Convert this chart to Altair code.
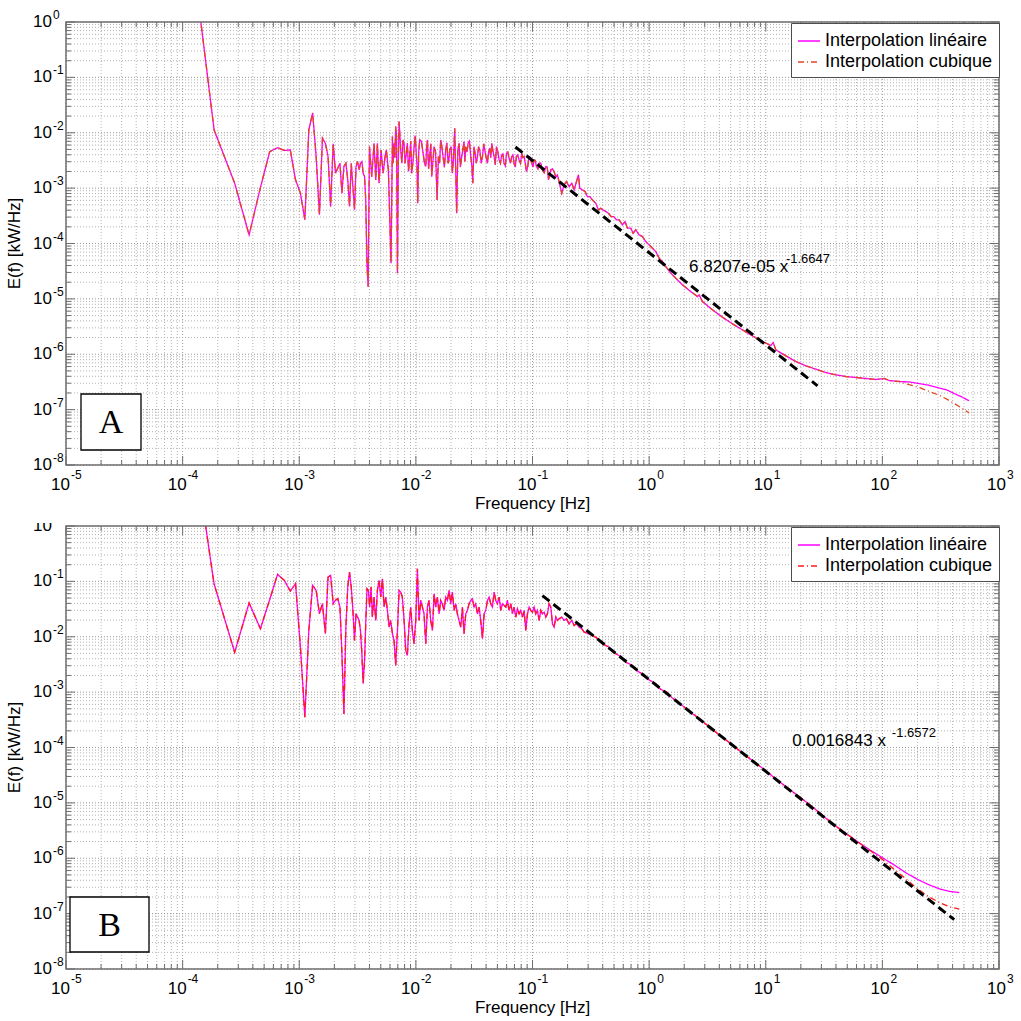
import altair as alt
import pandas as pd

LIN = "Interpolation linéaire"
CUB = "Interpolation cubique"

# ---------------------------------------------------------------------------
# Spectra, stored as (log10 f [Hz], log10 E(f) [kW/Hz]) pairs.
# ---------------------------------------------------------------------------

# Panel A - lowest harmonics
A_LOW = [
    (-4.03, 3.2), (-3.73, -1.95), (-3.554, -2.91), (-3.43, -3.845), (-3.333, -2.99),
    (-3.253, -2.34), (-3.186, -2.27), (-3.128, -2.32), (-3.077, -2.31), (-3.032, -2.85),
    (-2.990, -3.09), (-2.952, -3.57), (-2.918, -1.95), (-2.885, -1.64), (-2.855, -2.43),
    (-2.827, -3.48), (-2.801, -2.10), (-2.776, -2.19), (-2.753, -2.43), (-2.731, -3.33),
    (-2.709, -2.20), (-2.689, -2.73), (-2.670, -2.64), (-2.651, -2.55), (-2.634, -3.09),
    (-2.617, -2.61), (-2.600, -2.55), (-2.584, -2.85), (-2.569, -3.33), (-2.554, -2.55),
    (-2.540, -2.97), (-2.526, -3.39), (-2.513, -2.61), (-2.500, -2.52), (-2.487, -2.67),
    (-2.475, -2.55), (-2.463, -2.52), (-2.452, -2.73), (-2.440, -2.79), (-2.430, -3.21),
    (-2.419, -4.40), (-2.409, -4.78), (-2.398, -2.25),
]

# Panel A - noisy plateau
A_MID = [
    (-2.3785, -2.792), (-2.3585, -2.190), (-2.344, -2.852), (-2.330, -2.190), (-2.316, -2.912),
    (-2.2985, -2.311), (-2.281, -2.732), (-2.264, -2.431), (-2.253, -2.311), (-2.236, -2.672),
    (-2.213, -4.356), (-2.201, -2.070), (-2.187, -2.190), (-2.173, -1.889), (-2.158, -4.537),
    (-2.144, -1.799), (-2.130, -2.311), (-2.110, -2.130), (-2.093, -2.551), (-2.073, -2.190),
    (-2.053, -2.431), (-2.036, -2.732), (-2.016, -2.281), (-1.995, -2.431), (-1.984, -3.273),
    (-1.967, -2.130), (-1.938, -2.371), (-1.915, -2.611), (-1.901, -2.130), (-1.881, -2.431),
    (-1.864, -2.792), (-1.844, -2.250), (-1.818, -3.213), (-1.807, -2.431), (-1.787, -2.130),
    (-1.767, -2.431), (-1.744, -2.311), (-1.724, -2.551), (-1.710, -2.311), (-1.687, -2.732),
    (-1.667, -1.919), (-1.650, -3.454), (-1.630, -2.190), (-1.607, -2.431), (-1.587, -2.160),
    (-1.572, -2.250), (-1.552, -2.190), (-1.529, -2.431), (-1.512, -2.912), (-1.492, -2.371),
    (-1.472, -2.431), (-1.452, -2.311), (-1.429, -2.431), (-1.407, -2.341), (-1.387, -2.551),
    (-1.367, -2.281), (-1.349, -2.190), (-1.329, -2.431), (-1.309, -2.250), (-1.286, -2.491),
    (-1.264, -2.401), (-1.244, -2.551), (-1.223, -2.371), (-1.201, -2.461), (-1.178, -2.431),
    (-1.158, -2.551), (-1.138, -2.431), (-1.115, -2.491), (-1.092, -2.371), (-1.072, -2.431),
    (-1.052, -2.702), (-1.029, -2.431), (-1.006, -2.551), (-0.986, -2.491), (-0.966, -2.611),
    (-0.943, -2.551), (-0.915, -2.672), (-0.886, -2.611), (-0.863, -2.852), (-0.843, -2.672),
    (-0.815, -2.702), (-0.786, -2.762),
]

# Panel A - finer spikes inside the plateau band
A_MID_FINE = [
    (-2.195, -2.55), (-2.180, -2.45), (-2.166, -2.05), (-2.151, -2.60), (-2.137, -2.05),
    (-2.120, -2.55), (-2.101, -2.20), (-2.083, -2.40), (-2.063, -2.70), (-2.044, -2.15),
    (-2.026, -2.55), (-2.006, -2.05), (-1.990, -2.60), (-1.976, -2.35), (-1.953, -2.15),
    (-1.926, -2.55), (-1.908, -2.25), (-1.891, -2.65), (-1.872, -2.20), (-1.855, -2.55),
    (-1.831, -2.35), (-1.797, -2.55), (-1.777, -2.25), (-1.756, -2.62), (-1.734, -2.18),
    (-1.717, -2.50), (-1.698, -2.25), (-1.677, -2.45), (-1.640, -2.30), (-1.618, -2.62),
    (-1.597, -2.30), (-1.580, -2.52), (-1.562, -2.35), (-1.541, -2.15), (-1.520, -2.60),
    (-1.502, -2.25), (-1.482, -2.55), (-1.462, -2.25), (-1.440, -2.55), (-1.418, -2.20),
    (-1.397, -2.45), (-1.377, -2.35), (-1.358, -2.45), (-1.339, -2.33), (-1.319, -2.58),
    (-1.297, -2.35), (-1.275, -2.55), (-1.254, -2.38), (-1.233, -2.60), (-1.212, -2.35),
    (-1.189, -2.55), (-1.168, -2.40), (-1.148, -2.62), (-1.126, -2.40), (-1.103, -2.55),
    (-1.082, -2.45), (-1.062, -2.55), (-1.040, -2.60), (-1.017, -2.45), (-0.996, -2.62),
    (-0.976, -2.50), (-0.954, -2.65), (-0.929, -2.55), (-0.900, -2.72), (-0.874, -2.62),
    (-0.853, -2.75), (-0.829, -2.65), (-0.800, -2.80),
]

# Panel A - roll-off
A_ROLL = [
    (-0.749, -3.092), (-0.729, -2.942), (-0.709, -2.882), (-0.686, -2.972), (-0.663, -2.912),
    (-0.643, -3.032), (-0.623, -2.882), (-0.606, -2.761), (-0.595, -3.002), (-0.572, -3.032),
    (-0.549, -3.062), (-0.529, -3.152), (-0.509, -3.152), (-0.486, -3.213), (-0.457, -3.273),
    (-0.435, -3.393), (-0.415, -3.363), (-0.395, -3.393), (-0.372, -3.423), (-0.349, -3.453),
    (-0.326, -3.513), (-0.303, -3.513), (-0.280, -3.574), (-0.257, -3.574), (-0.229, -3.664),
    (-0.206, -3.604), (-0.186, -3.724), (-0.157, -3.724), (-0.137, -3.814), (-0.114, -3.754),
    (-0.086, -3.844), (-0.057, -3.874), (-0.029, -3.965), (0.000, -4.025), (0.029, -4.085),
    (0.057, -4.145), (0.086, -4.266), (0.114, -4.326), (0.143, -4.416), (0.186, -4.536),
    (0.229, -4.627), (0.286, -4.747), (0.357, -4.868), (0.415, -4.958), (0.429, -4.928),
    (0.457, -5.048), (0.543, -5.198), (0.629, -5.331), (0.715, -5.451), (0.800, -5.559),
    (0.886, -5.668), (0.972, -5.770), (1.044, -5.842), (1.064, -5.788), (1.086, -5.920),
    (1.172, -6.029), (1.258, -6.131), (1.344, -6.209), (1.429, -6.269), (1.515, -6.330),
    (1.601, -6.372), (1.687, -6.402), (1.773, -6.420), (1.858, -6.438), (1.944, -6.456),
    (2.016, -6.438), (2.058, -6.474), (2.144, -6.492),
]

A_TAIL_LIN = [(2.23, -6.50), (2.316, -6.53), (2.40, -6.56), (2.487, -6.61),
              (2.56, -6.65), (2.616, -6.71), (2.68, -6.77), (2.744, -6.84)]
A_TAIL_CUB = [(2.23, -6.55), (2.316, -6.60), (2.40, -6.67), (2.487, -6.74),
              (2.56, -6.82), (2.616, -6.89), (2.68, -6.97), (2.744, -7.06)]

# Panel B - lowest harmonics
B_LOW = [
    (-4.03, 3.3), (-3.731, -1.04), (-3.554, -2.28), (-3.430, -1.39), (-3.333, -1.856),
    (-3.253, -1.325), (-3.186, -0.874), (-3.128, -0.982), (-3.077, -1.175), (-3.032, -1.042),
    (-2.990, -2.187), (-2.952, -3.453), (-2.918, -1.886), (-2.885, -1.072), (-2.855, -1.163),
    (-2.827, -1.585), (-2.801, -1.40), (-2.776, -1.946), (-2.753, -0.922), (-2.731, -0.892),
    (-2.709, -1.404), (-2.689, -1.34), (-2.670, -1.31), (-2.651, -1.464), (-2.634, -2.308),
    (-2.617, -3.393), (-2.600, -1.826), (-2.584, -1.102), (-2.569, -0.831), (-2.554, -1.102),
    (-2.540, -1.524), (-2.526, -2.067), (-2.513, -1.585), (-2.500, -1.645), (-2.487, -1.705),
    (-2.475, -1.886), (-2.463, -2.308), (-2.452, -2.85), (-2.440, -2.429), (-2.430, -1.766),
    (-2.419, -1.132),
]

# Panel B - noisy plateau
B_MID = [
    (-2.407, -1.163), (-2.396, -1.464), (-2.384, -1.103), (-2.373, -1.645), (-2.359, -1.283),
    (-2.344, -1.705), (-2.330, -1.163), (-2.316, -0.982), (-2.301, -1.283), (-2.287, -0.952),
    (-2.273, -1.464), (-2.258, -1.283), (-2.244, -1.524), (-2.230, -1.826), (-2.216, -1.705),
    (-2.201, -1.946), (-2.187, -2.067), (-2.173, -2.519), (-2.158, -1.886), (-2.144, -1.163),
    (-2.130, -1.193), (-2.116, -1.283), (-2.101, -1.705), (-2.087, -2.248), (-2.073, -2.338),
    (-2.058, -1.766), (-2.044, -1.464), (-2.030, -1.886), (-2.016, -2.127), (-2.001, -1.705),
    (-1.987, -0.771), (-1.973, -1.705), (-1.958, -1.344), (-1.944, -1.464), (-1.930, -1.585),
    (-1.915, -2.127), (-1.901, -1.464), (-1.887, -1.344), (-1.873, -1.705), (-1.858, -1.886),
    (-1.844, -1.223), (-1.830, -1.464), (-1.815, -1.283), (-1.801, -1.585), (-1.787, -1.344),
    (-1.773, -1.404), (-1.758, -1.524), (-1.744, -1.283), (-1.730, -1.344), (-1.715, -1.163),
    (-1.701, -1.404), (-1.687, -1.193), (-1.672, -1.524), (-1.658, -1.404), (-1.644, -1.585),
    (-1.630, -1.705), (-1.615, -1.826), (-1.601, -1.464), (-1.587, -1.946), (-1.572, -1.585),
    (-1.558, -1.524), (-1.544, -1.404), (-1.529, -1.344), (-1.515, -1.314), (-1.501, -1.464),
    (-1.487, -1.404), (-1.472, -1.585), (-1.458, -1.464), (-1.444, -1.705), (-1.429, -2.037),
    (-1.415, -1.585), (-1.401, -1.524), (-1.386, -1.344), (-1.372, -1.283), (-1.358, -1.404),
    (-1.344, -1.464), (-1.329, -1.193), (-1.315, -1.344), (-1.301, -1.404), (-1.286, -1.283),
    (-1.272, -1.524), (-1.258, -1.404), (-1.229, -1.464), (-1.215, -1.344), (-1.201, -1.524),
    (-1.186, -1.404), (-1.172, -1.585), (-1.158, -1.464), (-1.143, -1.645), (-1.129, -1.494),
    (-1.115, -1.585), (-1.101, -1.524), (-1.086, -1.645), (-1.072, -1.524), (-1.058, -1.886),
    (-1.043, -1.585), (-1.029, -1.464), (-1.015, -1.524), (-1.000, -1.555), (-0.986, -1.464),
    (-0.972, -1.585), (-0.958, -1.524), (-0.943, -1.705), (-0.929, -1.524), (-0.915, -1.585),
    (-0.900, -1.555), (-0.886, -1.645), (-0.872, -1.585), (-0.858, -1.404), (-0.843, -1.464),
    (-0.829, -1.766), (-0.815, -1.826), (-0.800, -1.645), (-0.786, -1.705),
]

# Panel B - roll-off
B_ROLL = [
    (-0.772, -1.675), (-0.749, -1.645), (-0.729, -1.705), (-0.709, -1.675), (-0.686, -1.765),
    (-0.663, -1.705), (-0.643, -1.795), (-0.623, -1.765), (-0.600, -1.826), (-0.577, -1.856),
    (-0.557, -1.916), (-0.50, -1.96), (-0.45, -2.02), (-0.40, -2.13), (-0.35, -2.18),
    (-0.30, -2.29), (-0.25, -2.35), (-0.20, -2.46), (-0.15, -2.51), (-0.10, -2.62),
    (-0.05, -2.68), (0.00, -2.78), (0.05, -2.84), (0.10, -2.95), (0.15, -3.00),
    (0.20, -3.11), (0.25, -3.18), (0.30, -3.27), (0.35, -3.36), (0.40, -3.43),
    (0.50, -3.60), (0.60, -3.77), (0.70, -3.93), (0.80, -4.10), (0.90, -4.26),
    (1.00, -4.42), (1.10, -4.59), (1.20, -4.75), (1.30, -4.91), (1.40, -5.07),
    (1.50, -5.25), (1.60, -5.42), (1.70, -5.57), (1.80, -5.72),
]

B_TAIL_LIN = [(1.90, -5.86), (2.00, -5.99), (2.10, -6.12), (2.20, -6.26), (2.30, -6.38),
              (2.40, -6.48), (2.50, -6.56), (2.58, -6.60), (2.66, -6.62)]
B_TAIL_CUB = [(1.90, -5.87), (2.00, -6.02), (2.10, -6.20), (2.20, -6.37), (2.30, -6.55),
              (2.40, -6.70), (2.50, -6.81), (2.58, -6.88), (2.66, -6.92)]

# Power-law fits E = coef * f**expo over [f_start, f_end]
FIT_A = {"coef": 6.8207e-05, "expo": -1.6647, "f_start": 0.0714, "f_end": 27.8}
FIT_B = {"coef": 0.0016843, "expo": -1.6572, "f_start": 0.1216, "f_end": 413.0}

# Anchor of the fit equation (frequency, energy) for the base text and its exponent
FIT_LABEL_A = {"f": 2.2, "E": 3.07e-05, "sup_f": 14.9, "sup_E": 4.37e-05}
FIT_LABEL_B = {"f": 16.9, "E": 1.08e-04, "sup_f": 120.6, "sup_E": 1.57e-04}

X_DECADES = list(range(-5, 4))
Y_DECADES = list(range(-8, 1))

# ---------------------------------------------------------------------------
W, H = 933, 443
FONT = "Liberation Sans"
FRAME = "#6f6f6f"
GRID = "#b4b4b4"
MAGENTA = "#ff00ff"

XSCALE = alt.Scale(type="log", domain=[1e-5, 1e3], nice=False)
YSCALE = alt.Scale(type="log", domain=[1e-8, 1.0], nice=False)

x_major = [10.0 ** d for d in X_DECADES]
x_minor = [m * 10.0 ** d for d in X_DECADES[:-1] for m in range(2, 10)]
y_major = [10.0 ** d for d in Y_DECADES]
y_minor = [m * 10.0 ** d for d in Y_DECADES[:-1] for m in range(2, 10)]

LEGEND = alt.Legend(orient="none", legendX=W - 208, legendY=1, title=None,
                    fillColor="white", strokeColor="#4d4d4d", padding=6,
                    symbolType="stroke", symbolSize=484, symbolStrokeWidth=1.6,
                    labelFont=FONT, labelFontSize=18, labelColor="black",
                    labelLimit=400, labelOffset=4, rowPadding=0)

ONE = pd.DataFrame({"k": [0]})


def build_series(parts, tail, name):
    pts = sorted([p for part in parts for p in part] + list(tail))
    return pd.DataFrame({
        "f": [10.0 ** lf for lf, _ in pts],
        "E": [10.0 ** le for _, le in pts],
        "series": name,
    })


def xenc():
    return alt.X("f:Q", scale=XSCALE, axis=None)


def yenc():
    return alt.Y("E:Q", scale=YSCALE, axis=None)


def grid_layers():
    """Dotted grid at every decade and sub-decade value."""
    layers = []
    for vals, col in ((x_minor, GRID), (x_major, "#999999")):
        layers.append(alt.Chart(pd.DataFrame({"f": vals})).mark_rule(
            color=col, strokeWidth=1, strokeDash=[1, 2]).encode(x=xenc()))
    for vals, col in ((y_minor, GRID), (y_major, "#999999")):
        layers.append(alt.Chart(pd.DataFrame({"E": vals})).mark_rule(
            color=col, strokeWidth=1, strokeDash=[1, 2]).encode(y=yenc()))
    return layers


def tick_layers():
    """Inward ticks on the four sides of the box."""
    layers = []
    xm = pd.DataFrame({"f": x_major})
    xn = pd.DataFrame({"f": x_minor})
    ym = pd.DataFrame({"E": y_major})
    yn = pd.DataFrame({"E": y_minor})
    for df, ln in ((xm, 9), (xn, 5)):
        base = alt.Chart(df).mark_rule(color=FRAME, strokeWidth=1)
        layers.append(base.encode(x=xenc(), y=alt.value(H), y2=alt.value(H - ln)))
        layers.append(base.encode(x=xenc(), y=alt.value(0), y2=alt.value(ln)))
    for df, ln in ((ym, 9), (yn, 5)):
        base = alt.Chart(df).mark_rule(color=FRAME, strokeWidth=1)
        layers.append(base.encode(y=yenc(), x=alt.value(0), x2=alt.value(ln)))
        layers.append(base.encode(y=yenc(), x=alt.value(W), x2=alt.value(W - ln)))
    # box outline
    layers.append(alt.Chart(ONE).mark_rect(fill=None, stroke=FRAME, strokeWidth=1.5).encode(
        x=alt.value(0), x2=alt.value(W), y=alt.value(0), y2=alt.value(H)))
    return layers


def tick_label_layers():
    """Tick labels written as 10 with a raised exponent, plus axis titles."""
    xl = pd.DataFrame({"f": x_major, "exp": [str(d) for d in X_DECADES],
                       "neg": [d < 0 for d in X_DECADES]})
    yl = pd.DataFrame({"E": y_major, "exp": [str(d) for d in Y_DECADES]})
    layers = []
    for neg, shift in ((True, 4), (False, 7)):
        src = alt.Chart(xl).transform_filter(
            "datum.neg" if neg else "!datum.neg")
        layers.append(src.mark_text(text="10", font=FONT, fontSize=17, align="right",
                                    baseline="alphabetic", dx=shift, color="black")
                      .encode(x=xenc(), y=alt.value(H + 25)))
        layers.append(src.mark_text(font=FONT, fontSize=12, align="left",
                                    baseline="alphabetic", dx=shift + 1, color="black")
                      .encode(x=xenc(), y=alt.value(H + 14), text="exp:N"))
    layers.append(alt.Chart(yl).mark_text(text="10", font=FONT, fontSize=17, align="right",
                                          baseline="middle", color="black")
                  .encode(y=yenc(), x=alt.value(-14)))
    layers.append(alt.Chart(yl).mark_text(font=FONT, fontSize=12, align="left",
                                          baseline="middle", dy=-7, color="black")
                  .encode(y=yenc(), x=alt.value(-13), text="exp:N"))
    layers.append(alt.Chart(ONE).mark_text(font=FONT, fontSize=17, align="center",
                                           baseline="alphabetic", color="black").encode(
        x=alt.value(W / 2), y=alt.value(H + 44), text=alt.value("Frequency [Hz]")))
    layers.append(alt.Chart(ONE).mark_text(font=FONT, fontSize=17, align="center",
                                           baseline="middle", angle=270, color="black").encode(
        x=alt.value(-51), y=alt.value(H / 2), text=alt.value("E(f) [kW/Hz]")))
    return layers


def panel(parts, lin_tail, cub_tail, cub_color, fit, label, letter, box, crop_top=False):
    lin = build_series(parts, lin_tail, LIN)
    cub = build_series(parts, cub_tail, CUB)
    color = alt.Color("series:N", legend=LEGEND,
                      scale=alt.Scale(domain=[LIN, CUB], range=[MAGENTA, cub_color]))
    dash = alt.StrokeDash("series:N", legend=LEGEND,
                          scale=alt.Scale(domain=[LIN, CUB], range=[[1, 0], [6, 3, 1, 3]]))

    line_lin = alt.Chart(lin).mark_line(strokeWidth=1.3, clip=True).encode(
        x=xenc(), y=yenc(), color=color, strokeDash=dash)
    line_cub = alt.Chart(cub).mark_line(strokeWidth=1.3, clip=True).encode(
        x=xenc(), y=yenc(), color=color, strokeDash=dash)

    fit_df = pd.DataFrame({"f": [fit["f_start"], fit["f_end"]]})
    fit_df["E"] = fit["coef"] * fit_df["f"] ** fit["expo"]
    fit_line = alt.Chart(fit_df).mark_line(color="black", strokeWidth=3,
                                           strokeDash=[9, 5]).encode(x=xenc(), y=yenc())

    eq = pd.DataFrame({"f": [label["f"]], "E": [label["E"]],
                       "t": [f"{fit['coef']:.5g} x"]})
    sup = pd.DataFrame({"f": [label["sup_f"]], "E": [label["sup_E"]],
                        "t": [f"{fit['expo']:.5g}"]})
    eq_text = alt.Chart(eq).mark_text(font=FONT, fontSize=17, align="left",
                                      baseline="alphabetic", color="black").encode(
        x=xenc(), y=yenc(), text="t:N")
    sup_text = alt.Chart(sup).mark_text(font=FONT, fontSize=13, align="left",
                                        baseline="alphabetic", color="black").encode(
        x=xenc(), y=yenc(), text="t:N")

    x0, x1, y0, y1 = box
    box_rect = alt.Chart(ONE).mark_rect(fill="white", stroke="black", strokeWidth=1.3).encode(
        x=alt.value(x0), x2=alt.value(x1), y=alt.value(y0), y2=alt.value(y1))
    box_text = alt.Chart(ONE).mark_text(font="Liberation Serif", fontSize=34, align="center",
                                        baseline="middle", color="black").encode(
        x=alt.value((x0 + x1) / 2), y=alt.value((y0 + y1) / 2 + 1), text=alt.value(letter))

    layers = grid_layers()
    layers += [line_lin, line_cub, fit_line, eq_text, sup_text]
    layers += tick_layers()
    layers += tick_label_layers()
    if crop_top:
        # the figure is trimmed just above this panel, cutting its top tick label
        layers.append(alt.Chart(ONE).mark_rect(fill="white").encode(
            x=alt.value(-45), x2=alt.value(-2), y=alt.value(-20), y2=alt.value(-3)))
    layers += [box_rect, box_text]
    return alt.layer(*layers).properties(width=W, height=H)


panel_a = panel([A_LOW, A_MID, A_MID_FINE, A_ROLL], A_TAIL_LIN, A_TAIL_CUB, "#e2451f",
                FIT_A, FIT_LABEL_A, "A", (15, 75, 372, 428))
panel_b = panel([B_LOW, B_MID, B_ROLL], B_TAIL_LIN, B_TAIL_CUB, "#ff1a1a",
                FIT_B, FIT_LABEL_B, "B", (4, 83, 371, 426), crop_top=True)

chart = (
    alt.vconcat(panel_a, panel_b, spacing=61, bounds="flush")
    .resolve_scale(color="independent", strokeDash="independent")
    .resolve_legend(color="independent", strokeDash="independent")
    .properties(padding={"left": 6, "top": 9, "right": 5, "bottom": 5}, background="white")
    .configure_view(stroke=None)
)

chart.save("out.html", embed_options={"renderer": "svg", "actions": False})
